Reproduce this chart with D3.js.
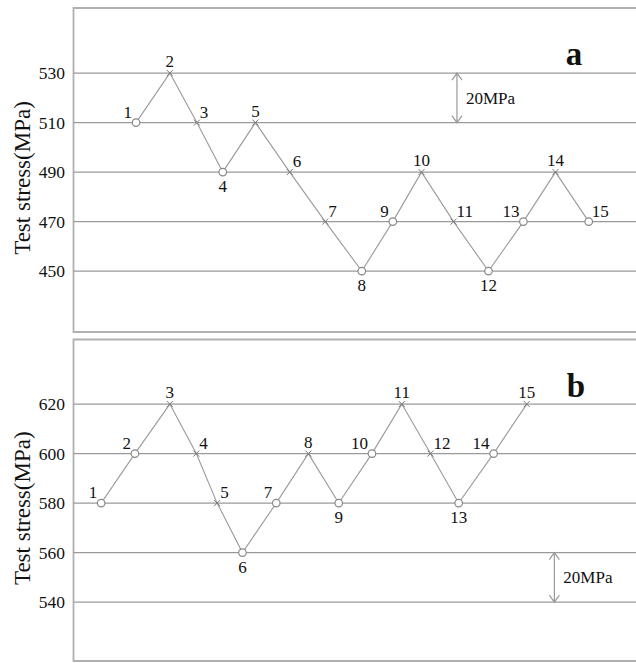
<!DOCTYPE html>
<html>
<head>
<meta charset="utf-8">
<script src="https://cdn.jsdelivr.net/npm/d3@7"></script>
<style>
  body { margin: 0; background: #fff; }
  svg text { font-family: "Liberation Serif", "Times New Roman", serif; fill: #111; }
</style>
</head>
<body>
<div id="chart"></div>
<script>
// Staircase test data: horizontal position (share of panel width), stress, outcome
// "o" = run-out (open circle), "x" = failure
const aPos = [11.2, 17.2, 22.0, 26.6, 32.4, 38.5, 44.8, 51.3, 56.8, 61.9, 67.6, 73.8, 80.0, 85.7, 91.6];
const aStress = [510, 530, 510, 490, 510, 490, 470, 450, 470, 490, 470, 450, 470, 490, 470];
const aMark = ["o", "x", "x", "o", "x", "x", "x", "o", "o", "x", "x", "o", "o", "x", "o"];
const aTicks = [450, 470, 490, 510, 530];

const bPos = [5.0, 11.0, 17.2, 21.9, 25.6, 30.1, 36.1, 41.8, 47.2, 53.1, 58.4, 63.5, 68.5, 74.7, 80.6];
const bStress = [580, 600, 620, 600, 580, 560, 580, 600, 580, 600, 620, 600, 580, 600, 620];
const bMark = ["o", "o", "x", "x", "x", "o", "o", "x", "o", "o", "x", "x", "o", "o", "x"];
const bTicks = [540, 560, 580, 600, 620];

const W = 636, H = 663;
const left = 73.5, right = 640;
const grey = "#9a9a9a";

const svg = d3.select("#chart").append("svg")
    .attr("width", W)
    .attr("height", H);

const x = d3.scaleLinear().domain([0, 100]).range([73, 636]);

function drawPanel(cfg) {
    const y = d3.scaleLinear().domain(cfg.domain).range([cfg.bottom, cfg.top]);
    const g = svg.append("g");

    // frame (open on the right)
    g.append("path")
        .attr("d", `M${right},${cfg.top}H${left}V${cfg.bottom}H${right}`)
        .attr("fill", "none")
        .attr("stroke", "#b0b0b0")
        .attr("stroke-width", 1.8);

    // grid lines
    g.selectAll(".grid")
        .data(cfg.ticks)
        .enter().append("line")
        .attr("x1", left).attr("x2", W)
        .attr("y1", d => y(d)).attr("y2", d => y(d))
        .attr("stroke", grey)
        .attr("stroke-width", 1.3);

    // tick labels
    g.selectAll(".tick")
        .data(cfg.ticks)
        .enter().append("text")
        .attr("x", 65)
        .attr("y", d => y(d))
        .attr("dy", "0.35em")
        .attr("text-anchor", "end")
        .style("font-size", "17.5px")
        .text(d => d);

    // axis title
    g.append("text")
        .attr("transform", `translate(30,${(cfg.top + cfg.bottom) / 2 + 8}) rotate(-90)`)
        .attr("text-anchor", "middle")
        .style("font-size", "23px")
        .text("Test stress(MPa)");

    const pts = cfg.pos.map((p, i) => ({ p: p, s: cfg.stress[i], m: cfg.mark[i], n: i + 1 }));

    // connecting line
    const line = d3.line().x(d => x(d.p)).y(d => y(d.s));
    g.append("path")
        .datum(pts)
        .attr("d", line)
        .attr("fill", "none")
        .attr("stroke", grey)
        .attr("stroke-width", 1.1);

    // markers
    pts.forEach(d => {
        const cx = x(d.p), cy = y(d.s);
        if (d.m === "o") {
            g.append("circle")
                .attr("cx", cx).attr("cy", cy).attr("r", 3.8)
                .attr("fill", "#fff")
                .attr("stroke", "#888")
                .attr("stroke-width", 1.2);
        } else {
            g.append("path")
                .attr("d", `M${cx - 3},${cy - 3}L${cx + 3},${cy + 3}M${cx - 3},${cy + 3}L${cx + 3},${cy - 3}`)
                .attr("stroke", "#777")
                .attr("stroke-width", 1);
        }
    });

    // point numbers: peaks above, valleys below, slopes beside
    pts.forEach((d, i) => {
        const prev = pts[i - 1], next = pts[i + 1];
        const cx = x(d.p), cy = y(d.s);
        let tx = cx, ty = cy - 6, anchor = "middle";
        const rising = prev ? prev.s < d.s : next.s > d.s;
        const peak = prev && prev.s < d.s && (!next || next.s < d.s);
        const valley = prev && prev.s > d.s && next && next.s > d.s;
        if (peak) {
            ty = cy - 6;
        } else if (valley) {
            ty = cy + 20;
        } else if (rising) {
            tx = cx - 4; ty = cy - 5; anchor = "end";
        } else {
            tx = cx + 3; ty = cy - 5; anchor = "start";
        }
        g.append("text")
            .attr("x", tx).attr("y", ty)
            .attr("text-anchor", anchor)
            .style("font-size", "17px")
            .text(d.n);
    });

    // panel letter
    g.append("text")
        .attr("x", cfg.letterX)
        .attr("y", cfg.top + 57)
        .attr("text-anchor", "middle")
        .style("font-size", "33px")
        .style("font-weight", "bold")
        .text(cfg.letter);

    // 20 MPa scale arrow
    const ax = x(cfg.arrowPos);
    const y1 = y(cfg.arrowFrom + 20), y2 = y(cfg.arrowFrom);
    g.append("path")
        .attr("d", `M${ax},${y1}V${y2}M${ax - 5},${y1 + 7}L${ax},${y1}L${ax + 5},${y1 + 7}M${ax - 5},${y2 - 7}L${ax},${y2}L${ax + 5},${y2 - 7}`)
        .attr("fill", "none")
        .attr("stroke", grey)
        .attr("stroke-width", 1.2);
    g.append("text")
        .attr("x", ax + 9)
        .attr("y", (y1 + y2) / 2)
        .attr("dy", "0.35em")
        .style("font-size", "17px")
        .text("20MPa");
}

drawPanel({
    top: 8, bottom: 332, domain: [425.4, 556.3], ticks: aTicks,
    pos: aPos, stress: aStress, mark: aMark,
    letter: "a", letterX: 574, arrowPos: 68.2, arrowFrom: 510
});

drawPanel({
    top: 339.5, bottom: 661, domain: [516.2, 646.1], ticks: bTicks,
    pos: bPos, stress: bStress, mark: bMark,
    letter: "b", letterX: 576, arrowPos: 85.5, arrowFrom: 540
});
</script>
</body>
</html>
